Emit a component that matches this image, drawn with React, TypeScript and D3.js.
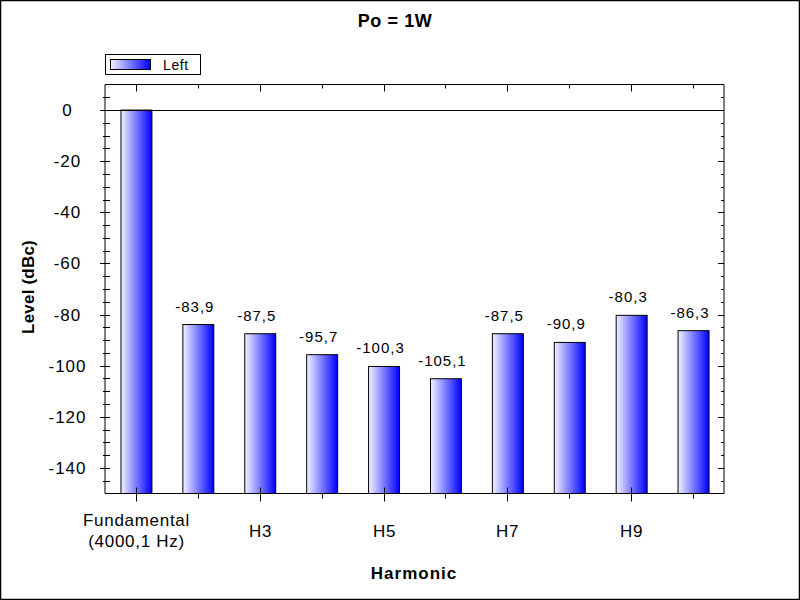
import React from "react";
import * as d3 from "d3";

const categories = ["Fundamental", "H2", "H3", "H4", "H5", "H6", "H7", "H8", "H9", "H10"];
const levels = [0, -83.9, -87.5, -95.7, -100.3, -105.1, -87.5, -90.9, -80.3, -86.3];
const valueLabels = ["", "-83,9", "-87,5", "-95,7", "-100,3", "-105,1", "-87,5", "-90,9", "-80,3", "-86,3"];
const xTickLabels: string[][] = [["Fundamental", "(4000,1 Hz)"], [], ["H3"], [], ["H5"], [], ["H7"], [], ["H9"], []];
const yMajorTicks = [0, -20, -40, -60, -80, -100, -120, -140];
const yTickLabels = ["0", "-20", "-40", "-60", "-80", "-100", "-120", "-140"];
const seriesName = "Left";
const title = "Po = 1W";
const xTitle = "Harmonic";
const yTitle = "Level (dBc)";

const W = 800;
const H = 600;
const L = 105, R = 724, T = 84.5, B = 493.5;
const FONT = "'Liberation Sans', Arial, sans-serif";

export default function App() {
  const y = d3.scaleLinear().domain([-150, 10]).range([B, T]);
  const x = d3.scaleBand<string>().domain(categories).range([L, R]).paddingInner(0.5).paddingOuter(0.25);
  const minor = d3.range(-145, 10, 5).filter((v) => v % 20 !== 0);
  const bw = x.bandwidth();

  return (
    <div style={{ position: "absolute", left: 0, top: 0 }}>
      <svg width={W} height={H} style={{ display: "block", background: "#fff" }} fontFamily={FONT}>
        <defs>
          <linearGradient id="barGrad" x1="0" y1="0" x2="1" y2="0">
            <stop offset="0" stopColor="#f2f2ff" />
            <stop offset="1" stopColor="#0000ff" />
          </linearGradient>
        </defs>
        <rect x={0.5} y={0.5} width={W - 1} height={H - 1} fill="#fff" stroke="#000" strokeWidth={1.5} />

        <text x={395} y={27} textAnchor="middle" fontWeight="bold" fontSize={18} letterSpacing={0.6}>{title}</text>

        {/* legend */}
        <rect x={105.5} y={54.5} width={95} height={20} fill="#fff" stroke="#000" />
        <rect x={110.5} y={59.5} width={40} height={10} fill="url(#barGrad)" stroke="#000" />
        <text x={163} y={70} fontSize={14} letterSpacing={0.6}>{seriesName}</text>

        {/* bars */}
        {categories.map((c, i) => (
          <rect key={c} x={(x(c) as number) + 0.5} y={y(levels[i])} width={bw} height={B - y(levels[i])}
            fill="url(#barGrad)" stroke="#000" strokeWidth={1} />
        ))}
        {categories.map((c, i) =>
          valueLabels[i] ? (
            <text key={"v" + c} x={(x(c) as number) + bw / 2 - 3} y={y(levels[i]) - 13} textAnchor="middle" fontSize={15} letterSpacing={1}>
              {valueLabels[i]}
            </text>
          ) : null
        )}

        {/* zero line */}
        <line x1={100} x2={R} y1={Math.round(y(0)) + 0.5} y2={Math.round(y(0)) + 0.5} stroke="#000" />

        {/* axes frame */}
        <line x1={L} x2={L} y1={T} y2={B} stroke="#000" />
        <line x1={R} x2={R} y1={T} y2={B} stroke="#000" />
        <line x1={L} x2={R} y1={T} y2={T} stroke="#000" />
        <line x1={L} x2={R} y1={B} y2={B} stroke="#000" />

        {/* y ticks */}
        {yMajorTicks.map((v, i) => (
          <g key={"ym" + v}>
            <line x1={L - 5} x2={L + 5} y1={Math.round(y(v)) + 0.5} y2={Math.round(y(v)) + 0.5} stroke="#000" />
            <line x1={R - 6} x2={R} y1={Math.round(y(v)) + 0.5} y2={Math.round(y(v)) + 0.5} stroke="#000" />
            <text x={67.5} y={y(v) + 6} textAnchor="middle" fontSize={17} letterSpacing={1}>{yTickLabels[i]}</text>
          </g>
        ))}
        {minor.map((v) => (
          <g key={"yn" + v}>
            <line x1={L - 2} x2={L + 5} y1={Math.round(y(v)) + 0.5} y2={Math.round(y(v)) + 0.5} stroke="#000" />
            <line x1={R - 3} x2={R} y1={Math.round(y(v)) + 0.5} y2={Math.round(y(v)) + 0.5} stroke="#000" />
          </g>
        ))}

        {/* x ticks */}
        {categories.map((c, i) => {
          const cx = Math.round((x(c) as number) + bw / 2) + 0.5;
          const major = i % 2 === 0;
          return (
            <g key={"xt" + c}>
              <line x1={cx} x2={cx} y1={major ? B - 6 : B} y2={major ? B + 8 : B + 5} stroke="#000" />
              <line x1={cx} x2={cx} y1={T} y2={major ? T + 7 : T + 4} stroke="#000" />
              {xTickLabels[i].map((s, k) => (
                <text key={k} x={cx} y={xTickLabels[i].length > 1 ? 526 + k * 21 : 537} textAnchor="middle" fontSize={17} letterSpacing={0.7}>
                  {s}
                </text>
              ))}
            </g>
          );
        })}

        <text x={414} y={579} textAnchor="middle" fontWeight="bold" fontSize={17} letterSpacing={1}>{xTitle}</text>
        <text transform="translate(34,287) rotate(-90)" textAnchor="middle" fontWeight="bold" fontSize={17} letterSpacing={0.2}>{yTitle}</text>
      </svg>
    </div>
  );
}
